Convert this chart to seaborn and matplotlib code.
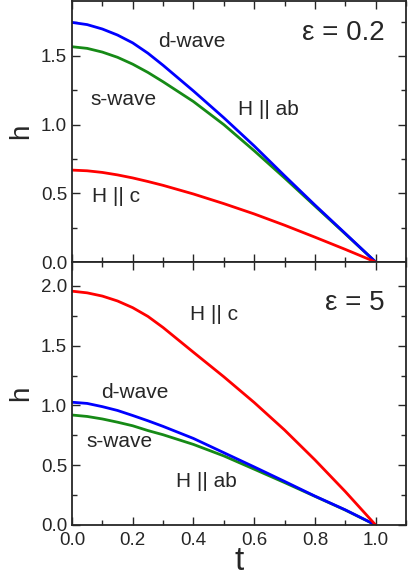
import numpy as np
import pandas as pd
import matplotlib
matplotlib.use("Agg")
import matplotlib.pyplot as plt
from matplotlib.ticker import MultipleLocator, FormatStrFormatter
import seaborn as sns

# reduced temperature
t = [0.0, 0.05, 0.1, 0.15, 0.2, 0.25, 0.3, 0.4, 0.5, 0.6, 0.7, 0.8, 0.9, 1.0]

# eps = 0.2 panel
top_dwave = [1.744, 1.728, 1.696, 1.652, 1.595, 1.52, 1.432, 1.245, 1.05, 0.845, 0.628, 0.415, 0.208, 0.0]
top_swave = [1.567, 1.555, 1.528, 1.49, 1.44, 1.38, 1.312, 1.168, 1.0, 0.81, 0.612, 0.408, 0.205, 0.0]
top_hc = [0.669, 0.664, 0.652, 0.634, 0.612, 0.586, 0.558, 0.495, 0.425, 0.350, 0.268, 0.181, 0.092, 0.0]

# eps = 5 panel
bot_dwave = [1.027, 1.017, 0.99, 0.958, 0.916, 0.872, 0.825, 0.724, 0.605, 0.486, 0.365, 0.242, 0.127, 0.0]
bot_swave = [0.92, 0.908, 0.887, 0.86, 0.83, 0.79, 0.755, 0.674, 0.578, 0.467, 0.355, 0.24, 0.125, 0.0]
bot_hc = [1.956, 1.942, 1.915, 1.874, 1.818, 1.745, 1.652, 1.445, 1.24, 1.025, 0.795, 0.545, 0.28, 0.0]

sns.set_style("ticks")
plt.rcParams['font.family'] = ['Liberation Sans', 'DejaVu Sans']

fig = plt.figure(figsize=(4.09, 5.78), dpi=100)
ax1 = fig.add_axes([0.176, 0.5467, 0.8166, 0.4516])
ax2 = fig.add_axes([0.176, 0.0917, 0.8166, 0.455])

blue = "#0000ff"
green = "#168a16"
red = "#ff0000"

def draw(ax, d, s, c):
    # green first so blue sits on top like the original
    sns.lineplot(x=t, y=s, ax=ax, color=green, lw=2.0)
    sns.lineplot(x=t, y=d, ax=ax, color=blue, lw=2.0)
    sns.lineplot(x=t, y=c, ax=ax, color=red, lw=2.0)

draw(ax1, top_dwave, top_swave, top_hc)
draw(ax2, bot_dwave, bot_swave, bot_hc)

ax1.set_ylim(0, 1.9)
ax2.set_ylim(0, 2.2)

for ax in (ax1, ax2):
    ax.set_xlim(0, 1.1)
    ax.xaxis.set_major_locator(MultipleLocator(0.2))
    ax.xaxis.set_minor_locator(MultipleLocator(0.1))
    ax.yaxis.set_major_locator(MultipleLocator(0.5))
    ax.yaxis.set_minor_locator(MultipleLocator(0.25))
    ax.tick_params(which="both", direction="in", top=True, right=True, width=1.0, labelsize=13.5)
    ax.tick_params(which="major", length=6)
    ax.tick_params(which="minor", length=3.5)
    ax.tick_params(axis="x", pad=5)
    for sp in ax.spines.values():
        sp.set_linewidth(1.3)
        sp.set_visible(True)
    ax.yaxis.set_major_formatter(FormatStrFormatter("%.1f"))
    ax.xaxis.set_major_formatter(FormatStrFormatter("%.1f"))
    ax.set_ylabel("h", fontsize=20, labelpad=5)

ax1.tick_params(labelbottom=False)
ax2.set_xlabel("t", fontsize=24, labelpad=-2)

fs = 15
ax1.text(0.283, 1.604, "d-wave", fontsize=fs, va="center")
ax1.text(0.062, 1.181, "s-wave", fontsize=fs, va="center")
ax1.text(0.546, 1.109, "H || ab", fontsize=fs, va="center")
ax1.text(0.065, 0.478, "H || c", fontsize=fs, va="center")
ax1.text(1.029, 1.667, "\u03b5 = 0.2", fontsize=20, va="center", ha="right")

ax2.text(0.39, 1.76, "H || c", fontsize=fs, va="center")
ax2.text(0.097, 1.108, "d-wave", fontsize=fs, va="center")
ax2.text(0.049, 0.70, "s-wave", fontsize=fs, va="center")
ax2.text(0.341, 0.36, "H || ab", fontsize=fs, va="center")
ax2.text(1.029, 1.859, "\u03b5 = 5", fontsize=20, va="center", ha="right")

fig.savefig("out.png", dpi=100)
